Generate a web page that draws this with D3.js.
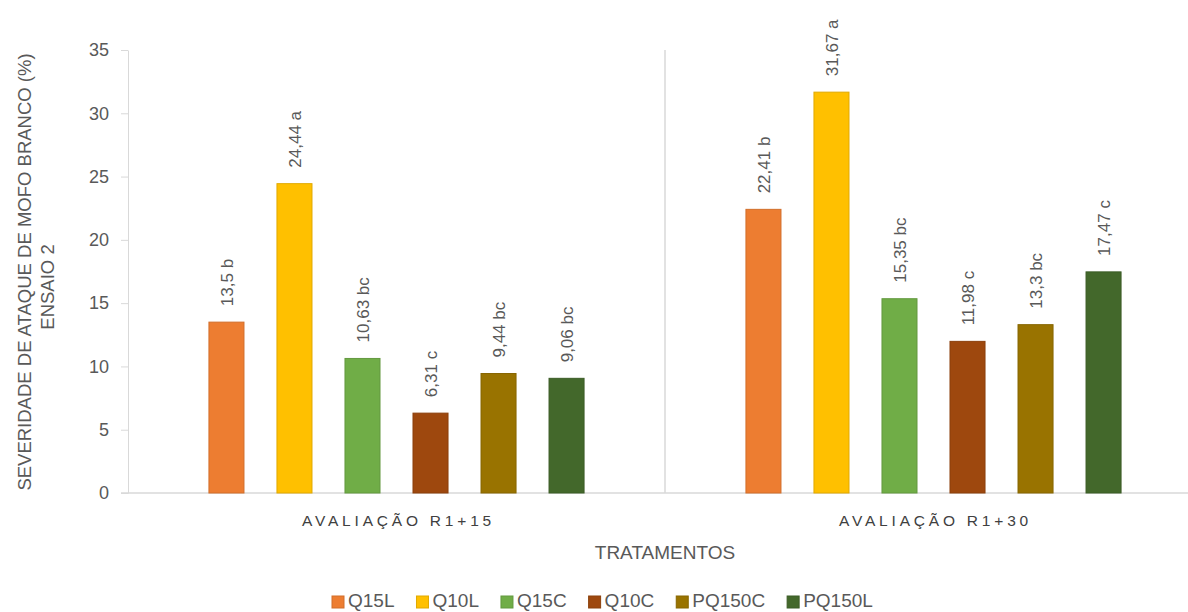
<!DOCTYPE html>
<html><head><meta charset="utf-8">
<script src="https://cdn.jsdelivr.net/npm/d3@7"></script>
<style>
body{margin:0;background:#fff;}
svg{display:block;font-family:"Liberation Sans",Arial,sans-serif;}
</style></head>
<body><svg id="c" width="1188" height="612"></svg>
<script>
const groups = ["AVALIAÇÃO R1+15", "AVALIAÇÃO R1+30"];
const series = ["Q15L", "Q10L", "Q15C", "Q10C", "PQ150C", "PQ150L"];
const valuesR15 = [13.5, 24.44, 10.63, 6.31, 9.44, 9.06];
const valuesR30 = [22.41, 31.67, 15.35, 11.98, 13.3, 17.47];
const lettersR15 = ["b", "a", "bc", "c", "bc", "bc"];
const lettersR30 = ["b", "a", "bc", "c", "bc", "c"];
const yTicks = [0, 5, 10, 15, 20, 25, 30, 35];
const colors = ["#ED7D31", "#FFC000", "#70AD47", "#9E480E", "#997300", "#43682B"];
const yTitle1 = "SEVERIDADE DE ATAQUE DE MOFO BRANCO (%)";
const yTitle2 = "ENSAIO 2";
const xTitle = "TRATAMENTOS";

const data = groups.map((g, gi) => ({
  group: g,
  items: series.map((s, si) => ({
    series: s, si,
    value: gi === 0 ? valuesR15[si] : valuesR30[si],
    letter: gi === 0 ? lettersR15[si] : lettersR30[si]
  }))
}));

const svg = d3.select("#c");
const pLeft = 128, pRight = 1202, pTop = 50, pBottom = 493;
const textCol = "#595959", lineCol = "#d9d9d9";

const y = d3.scaleLinear().domain([0, 35]).range([pBottom, pTop]);
const x0 = d3.scaleBand().domain(groups).range([pLeft, pRight]).padding(0);
const x1 = d3.scaleBand().domain(series).range([0, x0.bandwidth()])
  .paddingInner(0.485).paddingOuter(1.19);

// y axis
const yAxis = svg.append("g").attr("transform", `translate(${pLeft},0)`)
  .call(d3.axisLeft(y).tickValues(yTicks).tickSize(7).tickPadding(12).tickSizeOuter(0));
yAxis.select(".domain").attr("stroke", lineCol);
yAxis.selectAll(".tick line").attr("stroke", lineCol);
yAxis.selectAll(".tick text").attr("fill", textCol)
  .style("font-size", "18px").style("font-family", "Liberation Sans, Arial, sans-serif");

// x axis baseline and dividers
svg.append("line").attr("x1", pLeft - 7).attr("x2", 1188)
  .attr("y1", y(0)).attr("y2", y(0)).attr("stroke", lineCol).attr("stroke-width", 1.5);
svg.selectAll(".div").data(groups.slice(1)).enter().append("line")
  .attr("x1", d => x0(d)).attr("x2", d => x0(d))
  .attr("y1", y(35)).attr("y2", y(0)).attr("stroke", lineCol).attr("stroke-width", 1.5);

// bars
const gg = svg.selectAll(".grp").data(data).enter().append("g")
  .attr("transform", d => `translate(${x0(d.group)},0)`);
gg.selectAll("rect").data(d => d.items).enter().append("rect")
  .attr("x", d => x1(d.series)).attr("width", x1.bandwidth())
  .attr("y", d => y(d.value)).attr("height", d => y(0) - y(d.value))
  .attr("fill", d => colors[d.si])
  .attr("stroke", d => d3.color(colors[d.si]).darker(0.35))
  .attr("stroke-width", 1);

// value labels
gg.selectAll("text.lbl").data(d => d.items).enter().append("text")
  .attr("class", "lbl")
  .attr("transform", d => `translate(${x1(d.series) + x1.bandwidth() / 2},${y(d.value) - 16}) rotate(-90)`)
  .attr("dy", "0.36em")
  .attr("fill", textCol).style("font-size", "17px")
  .text(d => String(d.value).replace(".", ",") + " " + d.letter);

// category labels
svg.selectAll("text.cat").data(groups).enter().append("text")
  .attr("class", "cat")
  .attr("x", d => x0(d) + x0.bandwidth() / 2 + 2).attr("y", 526)
  .attr("text-anchor", "middle").attr("fill", "#404040")
  .style("font-size", "15.5px").style("letter-spacing", "3.8px")
  .text(d => d);

// axis titles
svg.append("text").attr("x", (pLeft + pRight) / 2).attr("y", 559)
  .attr("text-anchor", "middle").attr("fill", textCol).style("font-size", "19px")
  .text(xTitle);
svg.append("text").attr("transform", `translate(31,272) rotate(-90)`)
  .attr("text-anchor", "middle").attr("fill", textCol).style("font-size", "18.5px")
  .text(yTitle1);
svg.append("text").attr("transform", `translate(54,287) rotate(-90)`)
  .attr("text-anchor", "middle").attr("fill", textCol).style("font-size", "18.5px")
  .text(yTitle2);

// legend
let lx = 332;
series.forEach((s, i) => {
  svg.append("rect").attr("x", lx).attr("y", 596).attr("width", 12).attr("height", 12)
    .attr("fill", colors[i]).attr("stroke", d3.color(colors[i]).darker(0.35)).attr("stroke-width", 1);
  const t = svg.append("text").attr("x", lx + 16).attr("y", 607)
    .attr("fill", textCol).style("font-size", "19px").text(s);
  lx += 16 + t.node().getComputedTextLength() + 22;
});
</script></body></html>
